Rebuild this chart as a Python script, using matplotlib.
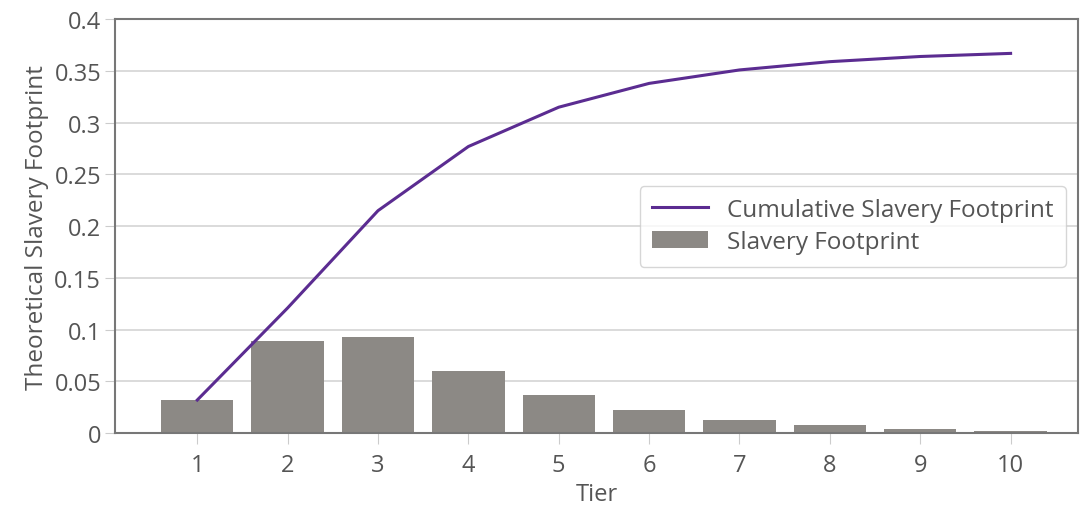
import numpy as np
import matplotlib.pyplot as plt

# data
tiers = [1, 2, 3, 4, 5, 6, 7, 8, 9, 10]
footprint = [0.032, 0.089, 0.093, 0.060, 0.037, 0.022, 0.0125, 0.0075, 0.004, 0.002]
cumulative = [0.032, 0.121, 0.215, 0.277, 0.315, 0.338, 0.351, 0.359, 0.364, 0.367]
yticks = [0, 0.05, 0.1, 0.15, 0.2, 0.25, 0.3, 0.35, 0.4]
ytick_labels = ['0', '0.05', '0.1', '0.15', '0.2', '0.25', '0.3', '0.35', '0.4']

plt.rcParams['font.family'] = ['Open Sans', 'DejaVu Sans']
txt = '#555555'

fig = plt.figure(figsize=(10.8, 5.06), dpi=100)
ax = fig.add_axes([0.1065, 0.142, 0.892, 0.818])

ax.bar(tiers, footprint, width=0.8, color='#8c8985', label='Slavery Footprint', zorder=2)
ax.plot(tiers, cumulative, color='#5b2c91', lw=2.2, label='Cumulative Slavery Footprint', zorder=3)

ax.set_xlim(0.09, 10.75)
ax.set_ylim(0, 0.4)
ax.set_xticks(tiers)
ax.set_yticks(yticks)
ax.set_yticklabels(ytick_labels)
ax.yaxis.grid(True, color='#d4d4d4', lw=1.2, zorder=0)
ax.set_axisbelow(True)

for s in ax.spines.values():
    s.set_color('#777777')
    s.set_linewidth(1.5)

ax.tick_params(axis='x', length=8, color='#cccccc', labelsize=17, labelcolor=txt, pad=6)
ax.tick_params(axis='y', length=7, color='#cccccc', labelsize=17, labelcolor=txt, pad=3)

ax.set_xlabel('Tier', fontsize=17, color=txt, labelpad=4)
ax.set_ylabel('Theoretical Slavery Footprint', fontsize=17.5, color=txt, labelpad=4)

leg = ax.legend(loc='center right', bbox_to_anchor=(0.9995, 0.5), fontsize=17.5,
                frameon=True, fancybox=True, handlelength=2.3, labelcolor=txt,
                borderpad=0.5, labelspacing=0.35)
leg.get_frame().set_edgecolor('#cccccc')

fig.savefig('out.png', dpi=100)
